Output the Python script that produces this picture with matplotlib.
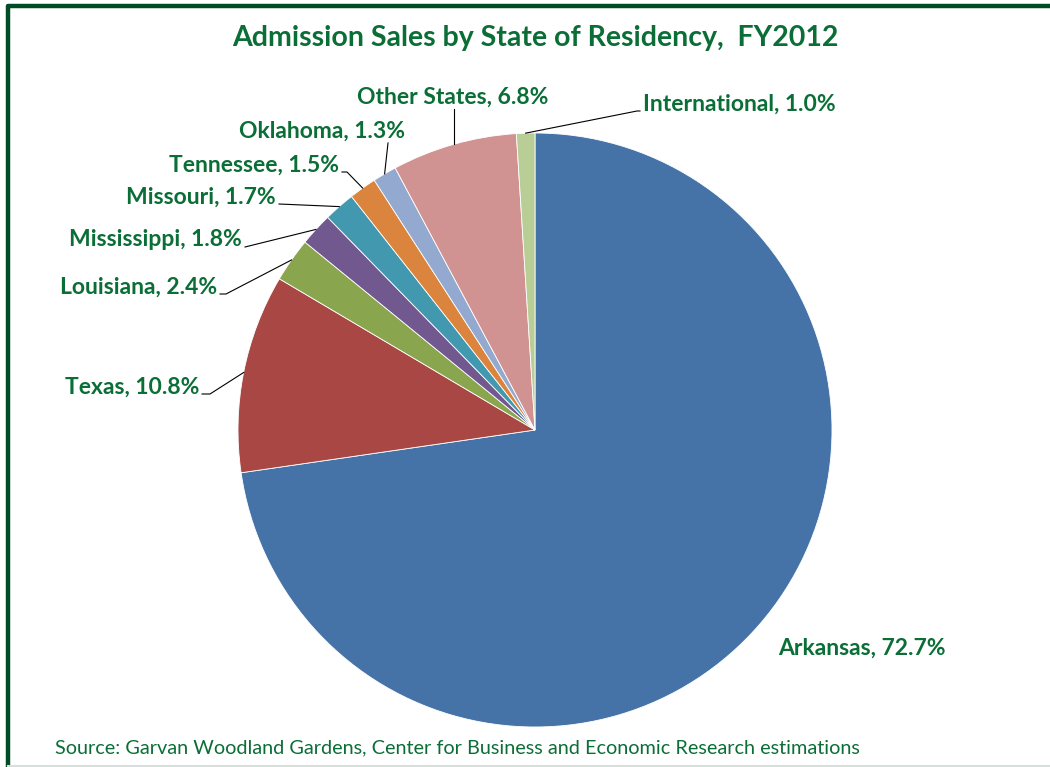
import numpy as np
import matplotlib
matplotlib.use("Agg")
import matplotlib.pyplot as plt

# data
states = ["Arkansas", "Texas", "Louisiana", "Mississippi", "Missouri",
          "Tennessee", "Oklahoma", "Other States", "International"]
shares = [72.7, 10.8, 2.4, 1.8, 1.7, 1.5, 1.3, 6.8, 1.0]
colors = ["#4673A7", "#A84744", "#89A54E", "#71588F", "#4298AF",
          "#DB843D", "#93A9CF", "#D19392", "#B9CD96"]

W, H = 1050, 767
GREEN = "#0A6E36"
FONT = "Lato"

# label layout in image pixels: (x, y, ha, leader style, elbow x)
label_pos = {
    "Arkansas": (778, 648, "left", None, None),
    "Texas": (199, 387, "right", "elbow", 210),
    "Louisiana": (217, 287, "right", "elbow", 226),
    "Mississippi": (242, 240, "right", "straight", None),
    "Missouri": (276, 197, "right", "straight", None),
    "Tennessee": (339, 165, "right", "elbow", 347),
    "Oklahoma": (405, 131, "right", "vertical", 388),
    "Other States": (453, 97, "center", "vertical", None),
    "International": (643, 104, "left", "elbow", 637),
}

cx, cy, r = 535, 430, 297


def fy(y):
    # image y (down) -> axes y (up)
    return H - y


fig = plt.figure(figsize=(W / 100, H / 100), dpi=100)
ax = fig.add_axes([0, 0, 1, 1])

ax.pie(shares, colors=colors, startangle=90, counterclock=False,
       center=(cx, fy(cy)), radius=r,
       wedgeprops=dict(edgecolor="white", linewidth=0.6))
ax.set_xlim(0, W)
ax.set_ylim(0, H)
ax.set_aspect("equal")
ax.axis("off")

# labels and leader lines
cum = np.cumsum([0] + shares)
for i, name in enumerate(states):
    mid = (cum[i] + cum[i + 1]) / 2 / 100 * 360
    ex = cx + r * np.sin(np.radians(mid))
    ey = cy - r * np.cos(np.radians(mid))
    tx, ty, ha, style, elbow = label_pos[name]
    ax.text(tx, fy(ty), f"{name}, {shares[i]:.1f}%", ha=ha, va="center",
            fontsize=16.5, fontweight="bold", color=GREEN, family=FONT)
    if style is None:
        continue
    if style == "vertical":
        top = elbow if elbow is not None else ex
        xs, ys = [ex, top], [ey, ty + 12]
    else:
        sx = tx + 3 if ha == "right" else tx - 3
        if style == "elbow":
            xs, ys = [ex, elbow, sx], [ey, ty + 7, ty + 7]
        else:
            xs, ys = [ex, sx], [ey, ty + 7]
    ax.plot(xs, [fy(v) for v in ys], color="black", lw=0.8)

ax.text(cx, fy(38), "Admission Sales by State of Residency,  FY2012",
        ha="center", va="center", fontsize=20.5, fontweight="bold",
        color=GREEN, family=FONT)
ax.text(55, fy(748), "Source: Garvan Woodland Gardens, Center for Business and Economic Research estimations",
        ha="left", va="center", fontsize=14.3, color=GREEN, family=FONT)

# frame
ax.plot([8, 8, W], [fy(H), fy(6), fy(6)], color="#004D25", lw=3.2,
        solid_capstyle="projecting")
ax.plot([8, W], [fy(765.5), fy(765.5)], color="#D5DFDB", lw=1.5)

fig.savefig("out.png", dpi=100)
